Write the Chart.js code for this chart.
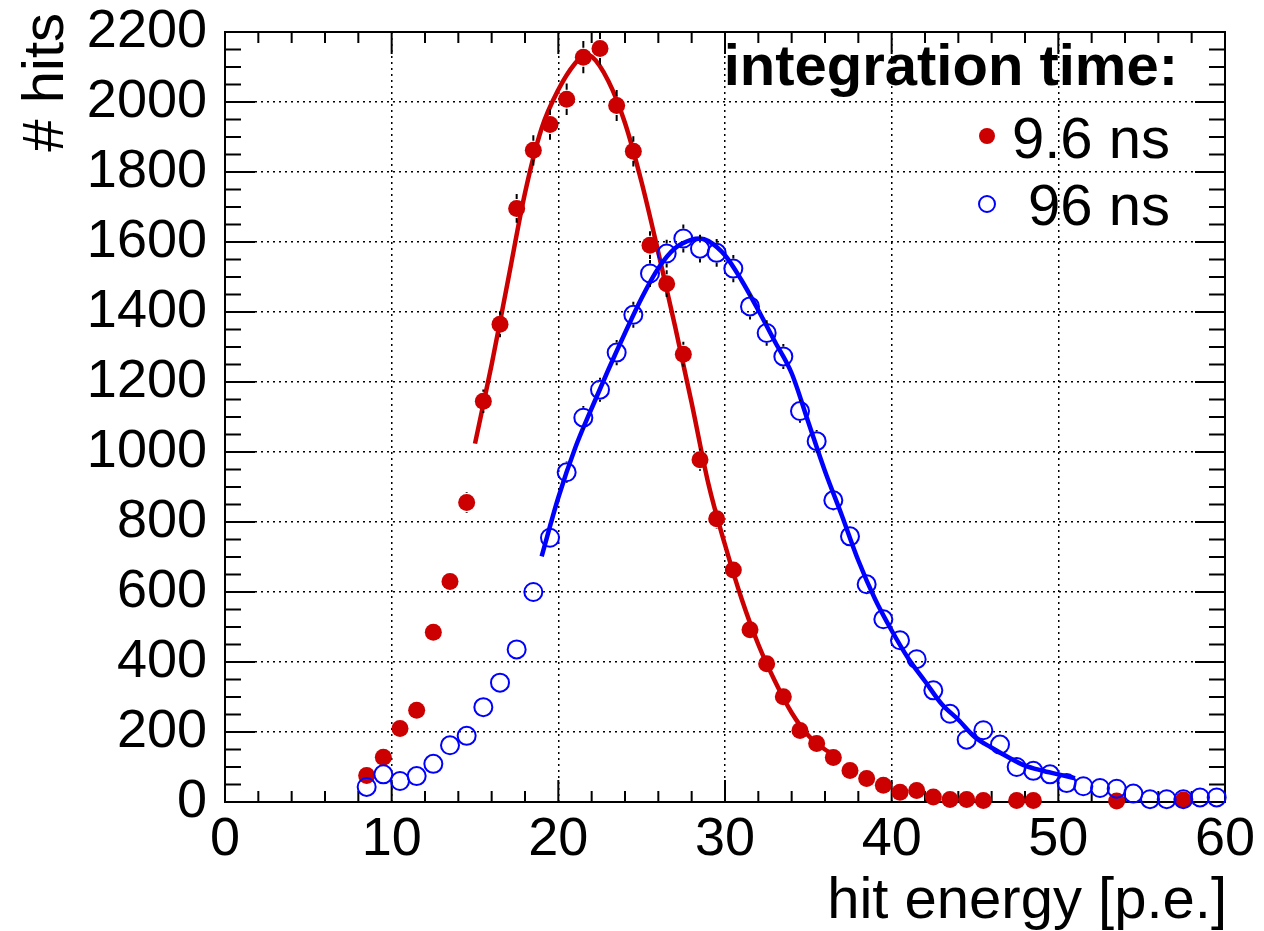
<!DOCTYPE html>
<html>
<head>
<meta charset="utf-8">
<title>hit energy</title>
<script src="https://cdn.jsdelivr.net/npm/chart.js@4/dist/chart.umd.min.js"></script>
<style>
  body { margin: 0; background: #fff; }
  #wrap { width: 1264px; height: 931px; }
</style>
</head>
<body>
<div id="wrap"><canvas id="myChart"></canvas></div>
<script>
// bin centres [p.e.]
const binCenters = [8.5, 9.5, 10.5, 11.5, 12.5, 13.5, 14.5, 15.5, 16.5, 17.5,
  18.5, 19.5, 20.5, 21.5, 22.5, 23.5, 24.5, 25.5, 26.5, 27.5,
  28.5, 29.5, 30.5, 31.5, 32.5, 33.5, 34.5, 35.5, 36.5, 37.5,
  38.5, 39.5, 40.5, 41.5, 42.5, 43.5, 44.5, 45.5, 46.5, 47.5,
  48.5, 49.5, 50.5, 51.5, 52.5, 53.5, 54.5, 55.5, 56.5, 57.5,
  58.5, 59.5];

// 9.6 ns integration (null = empty bin)
const hitsShort = [76, 128, 210, 262, 485, 630, 856, 1145, 1365, 1696,
  1862, 1936, 2008, 2128, 2153, 1990, 1859, 1591, 1481, 1279,
  978, 809, 663, 492, 395, 301, 204, 167, 127, 90,
  67, 48, 28, 33, 14, 7, 7, 4, null, 4,
  4, null, null, null, null, 3, null, null, null, 6,
  null, null];

// 96 ns integration
const hitsLong = [43, 79, 60, 74, 109, 162, 189, 271, 341, 436,
  600, 755, 942, 1098, 1178, 1284, 1392, 1510, 1567, 1610,
  1581, 1569, 1524, 1416, 1340, 1273, 1117, 1031, 862, 759,
  622, 522, 462, 408, 319, 252, 178, 205, 164, 100,
  89, 79, 54, 45, 40, 38, 24, 8, 8, 8,
  13, 13];

// fit curves
const fitShortX = [15, 16, 17, 18, 19, 20, 21, 21.6, 22, 23, 24, 25, 26, 27, 28, 29, 30, 31, 32, 33, 34, 35, 36, 36.9];
const fitShortY = [1024, 1250, 1495, 1740, 1925, 2035, 2110, 2135, 2130, 2060, 1940, 1770, 1570, 1360, 1140, 910, 735, 580, 450, 345, 255, 190, 150, 128];

const fitLongX = [19, 20, 21, 22, 23, 24, 25, 26, 27, 28, 28.5, 29, 30, 31, 32, 33, 34, 35, 36, 37, 38, 39, 40, 41, 42, 43, 44, 45, 46, 47, 48, 49, 50, 51];
const fitLongY = [702, 870, 1010, 1125, 1235, 1340, 1440, 1525, 1582, 1607, 1610, 1603, 1562, 1490, 1405, 1315, 1225, 1085, 945, 820, 690, 580, 490, 410, 345, 280, 235, 185, 155, 128, 104, 90, 79, 68];

const seriesLabels = ['9.6 ns', '96 ns'];
const legendTitle = 'integration time:';
const xTitle = 'hit energy [p.e.]';
const yTitle = '# hits';

const red = '#cc0000';
const blue = '#0000ff';
const fontFam = '"Liberation Sans", Arial, Helvetica, sans-serif';

function toPoints(xs, ys){
  let pts = [];
  for (let i = 0; i < xs.length; i++){
    if (ys[i] !== null) pts.push({x: xs[i], y: ys[i]});
  }
  return pts;
}

// frame + inward ticks, ROOT style
const framePlugin = {
  id: 'frame',
  beforeDatasetsDraw(chart){
    const ctx = chart.ctx;
    const a = chart.chartArea;
    const xs = chart.scales.x, ys = chart.scales.y;
    ctx.save();
    ctx.strokeStyle = '#000';
    ctx.lineWidth = 2;
    ctx.beginPath();
    for (let v = 0; v <= 60; v += 2){
      const px = xs.getPixelForValue(v);
      const len = (v % 10 === 0) ? 22 : 11;
      ctx.moveTo(px, a.bottom); ctx.lineTo(px, a.bottom - len);
      ctx.moveTo(px, a.top); ctx.lineTo(px, a.top + len);
    }
    for (let v = 0; v <= 2200; v += 50){
      const py = ys.getPixelForValue(v);
      const len = (v % 200 === 0) ? 30 : 16;
      ctx.moveTo(a.left, py); ctx.lineTo(a.left + len, py);
      ctx.moveTo(a.right, py); ctx.lineTo(a.right - len, py);
    }
    ctx.stroke();
    ctx.strokeRect(a.left, a.top, a.right - a.left, a.bottom - a.top);
    ctx.restore();
  }
};

// sqrt(N) error bars, skipped inside the marker
const errorBarPlugin = {
  id: 'errorBars',
  afterDatasetsDraw(chart){
    const ctx = chart.ctx;
    const ys = chart.scales.y;
    ctx.save();
    ctx.strokeStyle = '#000';
    ctx.lineWidth = 2;
    chart.data.datasets.forEach((ds, i) => {
      if (!ds.errorBars) return;
      const meta = chart.getDatasetMeta(i);
      const r = ds.pointRadius + 1;
      meta.data.forEach((pt, j) => {
        const v = ds.data[j].y;
        const e = Math.sqrt(v);
        const top = ys.getPixelForValue(v + e);
        const bot = ys.getPixelForValue(v - e);
        ctx.beginPath();
        if (pt.y - top > r){ ctx.moveTo(pt.x, top); ctx.lineTo(pt.x, pt.y - r); }
        if (bot - pt.y > r){ ctx.moveTo(pt.x, pt.y + r); ctx.lineTo(pt.x, bot); }
        ctx.stroke();
      });
    });
    ctx.restore();
  }
};

// axis titles and legend box
const textPlugin = {
  id: 'texts',
  afterDraw(chart){
    const ctx = chart.ctx;
    const a = chart.chartArea;
    ctx.save();
    ctx.fillStyle = '#000';
    ctx.textBaseline = 'alphabetic';

    ctx.font = '58px ' + fontFam;
    ctx.textAlign = 'right';
    ctx.fillText(xTitle, a.right + 2, a.bottom + 116);

    ctx.save();
    ctx.translate(63, 13);
    ctx.rotate(-Math.PI / 2);
    ctx.textAlign = 'right';
    ctx.fillText(yTitle, 0, 0);
    ctx.restore();

    ctx.font = 'bold 58px ' + fontFam;
    ctx.fillText(legendTitle, a.right - 47, a.top + 53);

    ctx.font = '58px ' + fontFam;
    const rows = [a.top + 126, a.top + 193];
    ctx.fillText(seriesLabels[0], a.right - 55, rows[0]);
    ctx.fillText(seriesLabels[1], a.right - 55, rows[1]);

    const mx = a.right - 238;
    ctx.beginPath();
    ctx.arc(mx, rows[0] - 22, 8, 0, Math.PI * 2);
    ctx.fillStyle = red;
    ctx.fill();
    ctx.beginPath();
    ctx.arc(mx, rows[1] - 21, 8, 0, Math.PI * 2);
    ctx.strokeStyle = blue;
    ctx.lineWidth = 2;
    ctx.stroke();
    ctx.restore();
  }
};

function createChart(){
  let myChart = document.getElementById('myChart').getContext('2d');

  new Chart(myChart, {
    type: 'scatter',
    data: {
      datasets: [
        {
          label: seriesLabels[0] + ' fit',
          data: toPoints(fitShortX, fitShortY),
          showLine: true,
          borderColor: red,
          borderWidth: 4.5,
          pointRadius: 0,
          cubicInterpolationMode: 'monotone',
          clip: false,
          order: 2
        },
        {
          label: seriesLabels[0],
          data: toPoints(binCenters, hitsShort),
          backgroundColor: red,
          borderWidth: 0,
          pointRadius: 8.5,
          errorBars: true,
          clip: false,
          order: 3
        },
        {
          label: seriesLabels[1] + ' fit',
          data: toPoints(fitLongX, fitLongY),
          showLine: true,
          borderColor: blue,
          borderWidth: 4.5,
          pointRadius: 0,
          cubicInterpolationMode: 'monotone',
          clip: false,
          order: 0
        },
        {
          label: seriesLabels[1],
          data: toPoints(binCenters, hitsLong),
          backgroundColor: 'rgba(0,0,0,0)',
          borderColor: blue,
          borderWidth: 2,
          pointRadius: 9,
          errorBars: true,
          clip: false,
          order: 1
        }
      ]
    },
    options: {
      responsive: true,
      maintainAspectRatio: false,
      animation: false,
      events: [],
      layout: { padding: { top: 32, right: 39, left: 0, bottom: 0 } },
      plugins: {
        legend: { display: false },
        tooltip: { enabled: false }
      },
      scales: {
        x: {
          type: 'linear',
          min: 0,
          max: 60,
          afterFit: s => { s.height = 129; },
          ticks: {
            stepSize: 10,
            maxRotation: 0,
            autoSkip: false,
            padding: 6,
            color: '#000',
            callback: v => String(v),
            font: { size: 54, family: fontFam }
          },
          grid: { color: '#000', lineWidth: 1.5, drawTicks: false },
          border: { display: false, dash: [2, 4] }
        },
        y: {
          type: 'linear',
          min: 0,
          max: 2200,
          afterFit: s => { s.width = 225; },
          ticks: {
            stepSize: 200,
            padding: 18,
            color: '#000',
            callback: v => String(v),
            font: { size: 54, family: fontFam, lineHeight: 0.4 }
          },
          grid: { color: '#000', lineWidth: 1.5, drawTicks: false },
          border: { display: false, dash: [2, 4] }
        }
      }
    },
    plugins: [framePlugin, errorBarPlugin, textPlugin]
  });
}

createChart();
</script>
</body>
</html>
